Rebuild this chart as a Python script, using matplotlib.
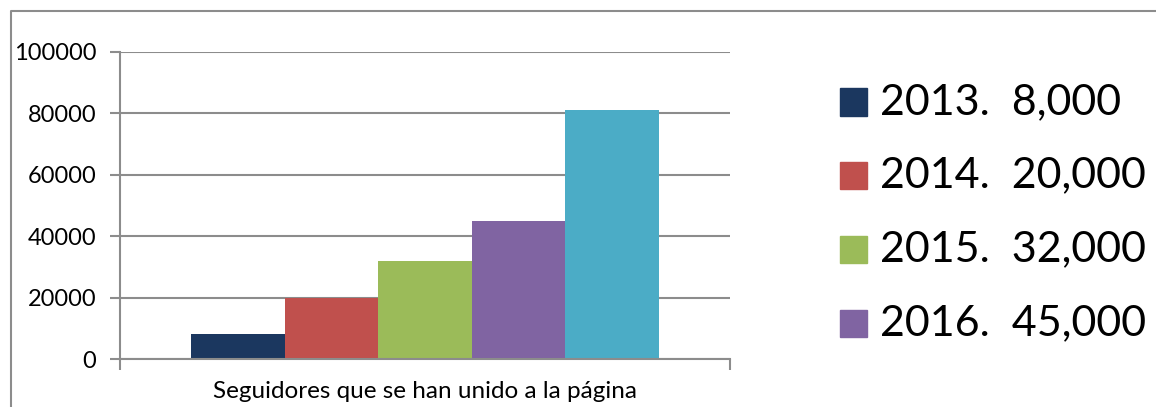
import matplotlib
matplotlib.use("Agg")
import matplotlib.pyplot as plt
from matplotlib.lines import Line2D
from matplotlib.patches import Rectangle

# data
years = ["2013", "2014", "2015", "2016", "2017"]
seguidores = [8000, 20000, 32000, 45000, 81000]
legend_labels = ["2013.  8,000", "2014.  20,000", "2015.  32,000", "2016.  45,000"]
colores = ["#1B375F", "#C0504D", "#9BBB59", "#8064A2", "#4BACC6"]
y_ticks = [0, 20000, 40000, 60000, 80000, 100000]
categoria = "Seguidores que se han unido a la página"

plt.rcParams["font.family"] = ["Lato", "DejaVu Sans"]
gris = "#8C8C8C"

fig = plt.figure(figsize=(11.56, 4.07), dpi=100)
W, H = 1156, 407
ax = fig.add_axes([120 / W, 1 - 359 / H, 610 / W, 307 / H])

bar_w = 0.1534
n = len(years)
for i, (yr, val, col) in enumerate(zip(years, seguidores, colores)):
    x = (i - (n - 1) / 2) * bar_w
    ax.bar(x, val, width=bar_w, color=col, zorder=3, label=yr)

ax.set_xlim(-0.5, 0.5)
ax.set_ylim(0, 100000)
ax.set_yticks(y_ticks)
ax.set_yticklabels([str(t) for t in y_ticks], fontsize=17)
ax.set_xticks([-0.5, 0.5])
ax.set_xticklabels(["", ""])
ax.tick_params(axis="y", length=7, width=1.5, color=gris, pad=10)
ax.tick_params(axis="x", length=8, width=1.5, color=gris)
ax.grid(axis="y", color=gris, linewidth=1.5, zorder=0)
for s in ["top", "right"]:
    ax.spines[s].set_visible(False)
for s in ["left", "bottom"]:
    ax.spines[s].set_color(gris)
    ax.spines[s].set_linewidth(1.5)
ax.spines["bottom"].set_zorder(4)
ax.text(0, -0.105, categoria, fontsize=17.5, ha="center", va="center",
        transform=ax.get_xaxis_transform())

# legend, drawn by hand in figure pixels
for i, (lab, col) in enumerate(zip(legend_labels, colores)):
    yc = 102 + i * 73.7
    fig.patches.append(Rectangle((840 / W, 1 - (yc + 13.5) / H), 27 / W, 27 / H,
                                 transform=fig.transFigure, color=col))
    fig.text(880 / W, 1 - yc / H, lab, fontsize=31, va="center", ha="left")

# chart area border (cut off at right and bottom)
fig.lines.append(Line2D([11 / W, 11 / W, 1.0], [0.0, 1 - 11 / H, 1 - 11 / H],
                        transform=fig.transFigure, color=gris, linewidth=1.5))

fig.savefig("out.png", dpi=100)
